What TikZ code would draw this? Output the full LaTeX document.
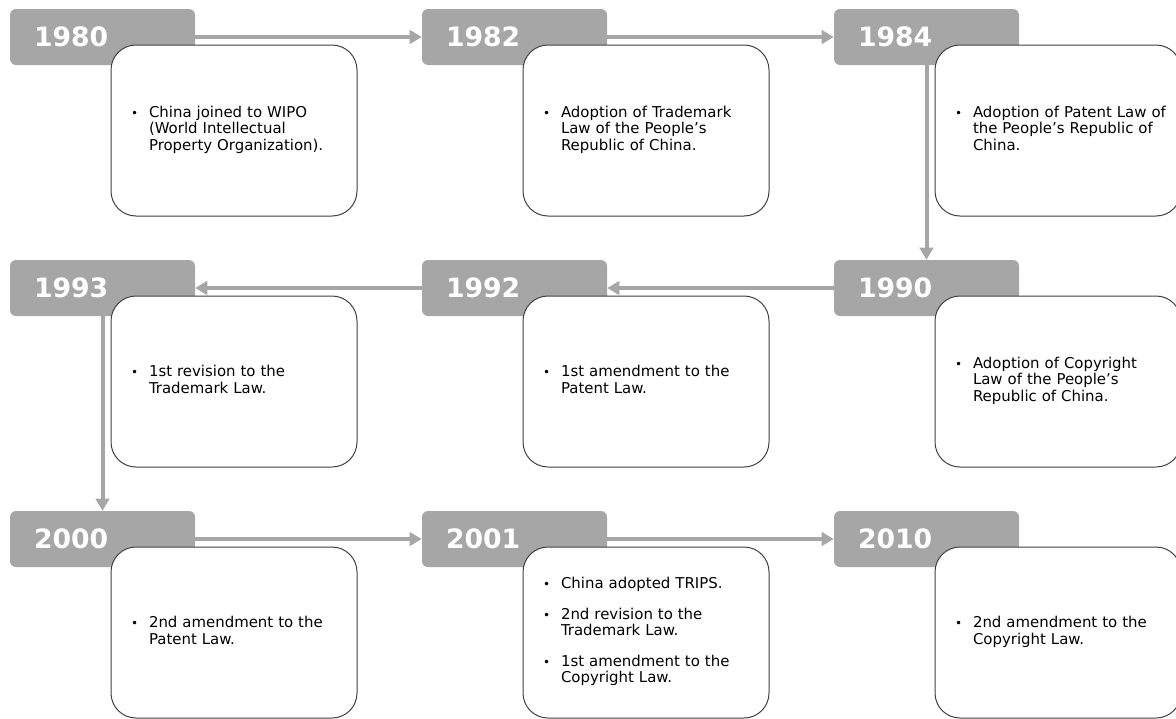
\documentclass[tikz,border=0pt]{standalone}
\usepackage{fontspec}
\setmainfont{DejaVu Sans}
\usetikzlibrary{arrows.meta}
\definecolor{tlgray}{HTML}{A6A6A6}
\newcommand{\bl}{{\fontsize{9}{9}\selectfont •}}
\newenvironment{blist}{\begin{tabular}{@{}p{13.5pt}@{}l@{}}}{\end{tabular}}
\begin{document}
\begin{tikzpicture}[x=0.75pt,y=-0.75pt,
  yearbox/.style={fill=tlgray, rounded corners=4.5pt, minimum width=138.75pt,
    minimum height=42pt, inner xsep=18pt, inner ysep=0pt, text width=102.75pt,
    align=left, text=white, font=\fontsize{20}{24}\selectfont\bfseries},
  infobox/.style={draw=black!75, line width=0.75pt, fill=white, rounded corners=18.75pt,
    minimum width=184.5pt, minimum height=128.25pt, inner xsep=15pt,
    text width=154.5pt, align=left, font=\fontsize{11.2}{12.6}\selectfont},
  link/.style={draw=tlgray, line width=3pt, -{Triangle[length=9pt,width=10pt]}}]
\useasboundingbox (0,0) rectangle (1176,718);

% year boxes
\node[yearbox] (y1980) at (102.5,37) {1980};
\node[yearbox] (y1982) at (514.5,37) {1982};
\node[yearbox] (y1984) at (926.5,37) {1984};
\node[yearbox] (y1993) at (102.5,288) {1993};
\node[yearbox] (y1992) at (514.5,288) {1992};
\node[yearbox] (y1990) at (926.5,288) {1990};
\node[yearbox] (y2000) at (102.5,539) {2000};
\node[yearbox] (y2001) at (514.5,539) {2001};
\node[yearbox] (y2010) at (926.5,539) {2010};

% connectors
\draw[link] (y1980.east) -- (y1982.west);
\draw[link] (y1982.east) -- (y1984.west);
\draw[link] (y1984.south) -- (y1990.north);
\draw[link] (y1990.west) -- (y1992.east);
\draw[link] (y1992.west) -- (y1993.east);
\draw[link] (y1993.south) -- (y2000.north);
\draw[link] (y2000.east) -- (y2001.west);
\draw[link] (y2001.east) -- (y2010.west);

% info boxes
\node[infobox] (t1980) at (234,130.5) {\begin{blist}
\bl & China joined to WIPO\\
 & (World Intellectual\\
 & Property Organization).
\end{blist}};
\node[infobox] (t1982) at (646,130.5) {\begin{blist}
\bl & Adoption of Trademark\\
 & Law of the People’s\\
 & Republic of China.
\end{blist}};
\node[infobox] (t1984) at (1058,130.5) {\begin{blist}
\bl & Adoption of Patent Law of\\
 & the People’s Republic of\\
 & China.
\end{blist}};
\node[infobox] (t1993) at (234,381.5) {\begin{blist}
\bl & 1st revision to the\\
 & Trademark Law.
\end{blist}};
\node[infobox] (t1992) at (646,381.5) {\begin{blist}
\bl & 1st amendment to the\\
 & Patent Law.
\end{blist}};
\node[infobox] (t1990) at (1058,381.5) {\begin{blist}
\bl & Adoption of Copyright\\
 & Law of the People’s\\
 & Republic of China.
\end{blist}};
\node[infobox] (t2000) at (234,632.5) {\begin{blist}
\bl & 2nd amendment to the\\
 & Patent Law.
\end{blist}};
\node[infobox] (t2001) at (646,632.5) {\begin{blist}
\bl & China adopted TRIPS.\\[10pt]
\bl & 2nd revision to the\\
 & Trademark Law.\\[10pt]
\bl & 1st amendment to the\\
 & Copyright Law.
\end{blist}};
\node[infobox] (t2010) at (1058,632.5) {\begin{blist}
\bl & 2nd amendment to the\\
 & Copyright Law.
\end{blist}};
\end{tikzpicture}
\end{document}
